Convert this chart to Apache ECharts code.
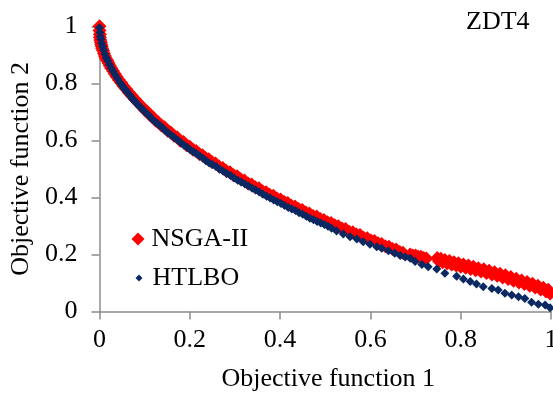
<!DOCTYPE html>
<html>
<head>
<meta charset="utf-8">
<script src="https://cdn.jsdelivr.net/npm/echarts@6/dist/echarts.min.js"></script>
<style>
  html, body { margin: 0; padding: 0; background: #ffffff; }
  #chart { width: 553px; height: 396px; }
</style>
</head>
<body>
<div id="chart"></div>
<script>
// Pareto fronts for the ZDT4 benchmark (objective 1 vs objective 2)
const seriesNames = ['NSGA-II', 'HTLBO'];
const tickValues = [0, 0.2, 0.4, 0.6, 0.8, 1];

const nsgaF1 = [0.000, 0.000, 0.001, 0.001, 0.002, 0.003, 0.004, 0.005, 0.006, 0.008,
  0.010, 0.012, 0.014, 0.017, 0.020, 0.023, 0.026, 0.030, 0.034, 0.038,
  0.043, 0.048, 0.053, 0.059, 0.065, 0.071, 0.078, 0.085, 0.092,
  0.100, 0.106, 0.112, 0.118, 0.124, 0.130, 0.137, 0.144, 0.151, 0.158,
  0.165, 0.172, 0.179, 0.186, 0.193, 0.200, 0.207, 0.214, 0.221, 0.228,
  0.235, 0.242, 0.249, 0.257, 0.265, 0.273, 0.281, 0.289, 0.297, 0.305,
  0.313, 0.321, 0.329, 0.337, 0.345, 0.353, 0.361, 0.369, 0.377, 0.385,
  0.393, 0.401, 0.409, 0.417, 0.425, 0.433, 0.441, 0.449, 0.457, 0.465,
  0.473, 0.481, 0.489, 0.497, 0.505, 0.513, 0.521, 0.529, 0.537, 0.545,
  0.553, 0.561, 0.569, 0.577, 0.585, 0.593, 0.601, 0.609, 0.617, 0.625,
  0.633, 0.641, 0.649, 0.657, 0.665, 0.672,
  0.688, 0.694, 0.700, 0.706, 0.712, 0.718, 0.724,
  0.748, 0.752, 0.756, 0.760, 0.765, 0.770, 0.775, 0.780, 0.785, 0.790,
  0.795, 0.800, 0.806, 0.811, 0.817, 0.822, 0.828, 0.833, 0.839, 0.845,
  0.851, 0.857, 0.863, 0.869, 0.875, 0.881, 0.887, 0.893, 0.899, 0.905,
  0.911, 0.917, 0.923, 0.929, 0.935, 0.941, 0.947, 0.953, 0.959, 0.965,
  0.971, 0.977, 0.983, 0.989, 0.994, 0.998];
const nsgaF2 = [1.000, 0.985, 0.972, 0.962, 0.952, 0.944, 0.936, 0.930, 0.922, 0.914,
  0.905, 0.896, 0.888, 0.880, 0.871, 0.862, 0.853, 0.843, 0.833, 0.823,
  0.812, 0.802, 0.791, 0.780, 0.768, 0.757, 0.745, 0.733, 0.721,
  0.707, 0.700, 0.688, 0.682, 0.670, 0.664, 0.652, 0.646, 0.634, 0.628,
  0.616, 0.611, 0.599, 0.594, 0.583, 0.578, 0.567, 0.563, 0.552, 0.548,
  0.538, 0.534, 0.524, 0.519, 0.508, 0.503, 0.493, 0.488, 0.478, 0.474,
  0.464, 0.459, 0.449, 0.445, 0.436, 0.432, 0.422, 0.418, 0.409, 0.406,
  0.396, 0.393, 0.384, 0.380, 0.371, 0.368, 0.359, 0.356, 0.347, 0.344,
  0.335, 0.333, 0.324, 0.321, 0.313, 0.310, 0.302, 0.299, 0.291, 0.289,
  0.280, 0.278, 0.270, 0.268, 0.259, 0.257, 0.249, 0.247, 0.239, 0.237,
  0.229, 0.227, 0.219, 0.217, 0.209, 0.206,
  0.200, 0.196, 0.196, 0.192, 0.192, 0.188, 0.186,
  0.188, 0.176, 0.185, 0.173, 0.181, 0.169, 0.177, 0.165, 0.173, 0.161,
  0.169, 0.157, 0.165, 0.153, 0.161, 0.149, 0.157, 0.145, 0.152, 0.140,
  0.148, 0.135, 0.143, 0.130, 0.138, 0.125, 0.132, 0.119, 0.127, 0.114,
  0.121, 0.108, 0.115, 0.102, 0.109, 0.096, 0.103, 0.090, 0.097, 0.084,
  0.090, 0.077, 0.083, 0.070, 0.076, 0.063];

const htlboF1 = [0.000, 0.001, 0.002, 0.003, 0.005, 0.007, 0.009, 0.012, 0.015, 0.018,
  0.022, 0.026, 0.030, 0.035, 0.040, 0.045, 0.048, 0.051, 0.054, 0.057,
  0.060, 0.063, 0.0665, 0.070, 0.0735, 0.077, 0.0805, 0.084, 0.088, 0.092,
  0.096, 0.100, 0.105, 0.110, 0.116, 0.122, 0.128, 0.134, 0.140, 0.146,
  0.152, 0.159, 0.166, 0.173, 0.180, 0.187, 0.194, 0.201, 0.208, 0.215,
  0.222, 0.229, 0.236, 0.243, 0.250, 0.258, 0.266, 0.274, 0.282, 0.290,
  0.298, 0.306, 0.314, 0.322, 0.330, 0.338, 0.346, 0.354, 0.362, 0.370,
  0.378, 0.386, 0.394, 0.402, 0.410, 0.418, 0.426, 0.434, 0.442, 0.450,
  0.458, 0.466, 0.474, 0.482, 0.490, 0.498, 0.506,
  0.514, 0.525, 0.540, 0.555, 0.570, 0.584, 0.599, 0.614, 0.625, 0.640,
  0.654, 0.666, 0.677, 0.688, 0.699, 0.714, 0.728, 0.747, 0.765, 0.791,
  0.806, 0.821, 0.835, 0.850, 0.869, 0.883, 0.898, 0.913, 0.928, 0.942,
  0.957, 0.972, 0.987, 0.998];
const htlboF2 = [0.995, 0.978, 0.964, 0.955, 0.941, 0.929, 0.917, 0.902, 0.890, 0.879,
  0.866, 0.853, 0.842, 0.829, 0.816, 0.803, 0.797, 0.791, 0.784, 0.778,
  0.772, 0.766, 0.759, 0.752, 0.745, 0.739, 0.733, 0.727, 0.720, 0.714,
  0.707, 0.701, 0.693, 0.686, 0.676, 0.667, 0.659, 0.652, 0.643, 0.634,
  0.626, 0.618, 0.609, 0.601, 0.592, 0.583, 0.576, 0.567, 0.560, 0.553,
  0.545, 0.537, 0.529, 0.521, 0.515, 0.508, 0.499, 0.492, 0.484, 0.477,
  0.468, 0.460, 0.454, 0.447, 0.440, 0.432, 0.426, 0.419, 0.411, 0.404,
  0.398, 0.391, 0.385, 0.379, 0.372, 0.365, 0.359, 0.354, 0.346, 0.341,
  0.334, 0.327, 0.322, 0.316, 0.310, 0.305, 0.299,
  0.292, 0.282, 0.272, 0.262, 0.254, 0.245, 0.236, 0.227, 0.222, 0.213,
  0.204, 0.196, 0.191, 0.187, 0.175, 0.165, 0.157, 0.149, 0.134, 0.124,
  0.114, 0.105, 0.096, 0.087, 0.081, 0.075, 0.064, 0.058, 0.052, 0.046,
  0.032, 0.025, 0.023, 0.013];

const pairs = (xs, ys) => xs.map((x, i) => [x, ys[i]]);

const FONT = "'Liberation Serif', 'Times New Roman', serif";
const AXIS_GREY = '#8c8c8c';
const RED = '#ff0000';
const NAVY = '#0a2862';

const chart = echarts.init(document.getElementById('chart'), null, { renderer: 'canvas' });

function valueAxis(extra) {
  return Object.assign({
    type: 'value',
    min: tickValues[0],
    max: tickValues[tickValues.length - 1],
    interval: 0.2,
    nameLocation: 'middle',
    axisLine: { show: true, lineStyle: { color: AXIS_GREY, width: 1.5 } },
    axisTick: { show: true, inside: false, length: 8, lineStyle: { color: AXIS_GREY, width: 1.5 } },
    splitLine: { show: false }
  }, extra);
}

chart.setOption({
  animation: false,
  backgroundColor: '#ffffff',
  grid: {
    left: 99.5, right: 2, top: 26.3, bottom: 84.5,
    containLabel: false,
    outerBoundsMode: 'none'
  },
  xAxis: valueAxis({
    name: 'Objective function 1',
    nameGap: 55,
    nameTextStyle: { fontFamily: FONT, fontSize: 26, color: '#000', padding: [0, 0, 0, 6] },
    axisLabel: { fontFamily: FONT, fontSize: 26, color: '#000', margin: 16 }
  }),
  yAxis: valueAxis({
    name: 'Objective function 2',
    nameGap: 61,
    nameRotate: 90,
    nameTextStyle: { fontFamily: FONT, fontSize: 26, color: '#000' },
    axisLabel: { fontFamily: FONT, fontSize: 26, color: '#000', margin: 22 }
  }),
  legend: [
    {
      data: [seriesNames[0]],
      orient: 'vertical',
      left: 131.5,
      top: 226,
      padding: 0,
      icon: 'diamond',
      itemWidth: 13,
      itemHeight: 13,
      textStyle: { fontFamily: FONT, fontSize: 26, color: '#000', padding: [0, 0, 0, 2] }
    },
    {
      data: [seriesNames[1]],
      orient: 'vertical',
      left: 135.5,
      top: 265,
      padding: 0,
      icon: 'diamond',
      itemWidth: 7,
      itemHeight: 7,
      textStyle: { fontFamily: FONT, fontSize: 26, color: '#000', padding: [0, 0, 0, 5] }
    }
  ],
  graphic: [{
    type: 'text',
    left: 466,
    top: 9,
    style: { text: 'ZDT4', font: "26px 'Liberation Serif', 'Times New Roman', serif", fill: '#000' }
  }],
  series: [
    {
      name: seriesNames[0],
      type: 'scatter',
      symbol: 'diamond',
      symbolSize: 14,
      itemStyle: { color: RED, opacity: 1 },
      data: pairs(nsgaF1, nsgaF2),
      z: 2
    },
    {
      name: seriesNames[1],
      type: 'scatter',
      symbol: 'diamond',
      symbolSize: 9,
      itemStyle: { color: NAVY, opacity: 1 },
      data: pairs(htlboF1, htlboF2),
      z: 3
    }
  ]
});
</script>
</body>
</html>
